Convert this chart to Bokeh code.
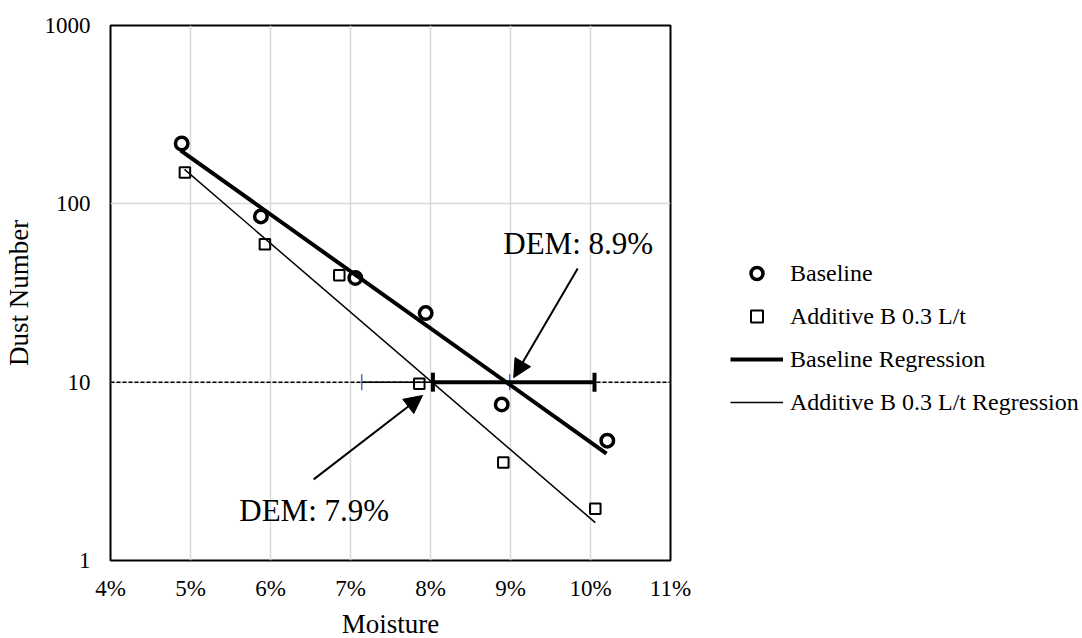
from bokeh.plotting import figure
from bokeh.models import (ColumnDataSource, Span, Whisker, TeeHead, Arrow, NormalHead,
                          Legend, LegendItem, FixedTicker, PrintfTickFormatter,
                          NumeralTickFormatter, Range1d)
from bokeh.core.properties import value
from bokeh.embed import file_html
from bokeh.resources import INLINE

FONT = "Liberation Serif"

# ---- data ----
baseline_moisture = [4.89, 5.88, 7.06, 7.94, 8.89, 10.21]
baseline_dust = [218, 85, 38.4, 24.4, 7.5, 4.7]
additive_moisture = [4.93, 5.93, 6.86, 7.86, 8.91, 10.06]
additive_dust = [150, 59.4, 39.8, 9.8, 3.54, 1.95]

baseline_reg_moisture = [4.875, 10.2]
baseline_reg_dust = [199.5, 3.98]
additive_reg_moisture = [4.925, 10.06]
additive_reg_dust = [156, 1.63]

dust_threshold = 10
baseline_err = [8.03, 10.05]
additive_err = [7.14, 8.99]

x_ticks = [4, 5, 6, 7, 8, 9, 10, 11]
y_ticks = [1, 10, 100, 1000]

dem_labels = ["DEM: 8.9%", "DEM: 7.9%"]
dem_label_x = [8.91, 5.61]
dem_label_y = [60.0, 1.91]
arrow_start_x = [9.84, 6.54]
arrow_start_y = [43.4, 2.85]
arrow_end_x = [9.04, 7.90]
arrow_end_y = [10.6, 8.42]

legend_labels = ["Baseline", "Additive B 0.3 L/t", "Baseline Regression",
                 "Additive B 0.3 L/t Regression"]

# ---- figure ----
p = figure(frame_width=560, frame_height=535, output_backend="svg", toolbar_location=None,
           y_axis_type="log", x_range=Range1d(4, 11), y_range=Range1d(1, 1000),
           min_border_left=104, min_border_right=410, min_border_top=25,
           min_border_bottom=0)
p.background_fill_color = "white"
p.border_fill_color = "white"
p.outline_line_color = "black"
p.outline_line_width = 2

p.xaxis.ticker = FixedTicker(ticks=x_ticks)
p.yaxis.ticker = FixedTicker(ticks=y_ticks)
p.xaxis.formatter = PrintfTickFormatter(format="%d%%")
p.yaxis.formatter = NumeralTickFormatter(format="0")
for ax in (p.xaxis, p.yaxis):
    ax.axis_line_color = None
    ax.major_tick_line_color = None
    ax.minor_tick_line_color = None
    ax.major_tick_out = 0
    ax.major_tick_in = 0
    ax.minor_tick_out = 0
    ax.major_label_text_font = FONT
    ax.major_label_text_font_size = "23px"
    ax.major_label_text_color = "black"
    ax.axis_label_text_font = FONT
    ax.axis_label_text_font_size = "27px"
    ax.axis_label_text_font_style = "normal"
    ax.axis_label_text_color = "black"
p.xaxis.axis_label = "Moisture"
p.yaxis.axis_label = "Dust Number"
p.xaxis.major_label_standoff = 15
p.xaxis.axis_label_standoff = 5
p.yaxis.major_label_standoff = 20
p.yaxis.axis_label_standoff = 8

p.xgrid.ticker = FixedTicker(ticks=x_ticks)
p.ygrid.ticker = FixedTicker(ticks=y_ticks)
p.grid.grid_line_color = "#D9D9D9"
p.grid.grid_line_width = 1.5
p.ygrid.minor_grid_line_color = None

# threshold dashed line
p.add_layout(Span(location=dust_threshold, dimension="width", line_color="black",
                  line_width=1.5, line_dash="4 2"))

# error bars
add_src = ColumnDataSource(dict(base=[dust_threshold], lower=[additive_err[0]],
                                upper=[additive_err[1]]))
p.add_layout(Whisker(source=add_src, base="base", lower="lower", upper="upper",
                     dimension="width", line_color="black", line_width=1.5,
                     lower_head=TeeHead(size=16, line_color="#4472C4", line_width=1.5),
                     upper_head=TeeHead(size=16, line_color="#4472C4", line_width=1.5)))
base_src = ColumnDataSource(dict(base=[dust_threshold], lower=[baseline_err[0]],
                                 upper=[baseline_err[1]]))
p.add_layout(Whisker(source=base_src, base="base", lower="lower", upper="upper",
                     dimension="width", line_color="black", line_width=4,
                     lower_head=TeeHead(size=19, line_color="black", line_width=4),
                     upper_head=TeeHead(size=19, line_color="black", line_width=4)))

# regression lines
r_breg = p.line(baseline_reg_moisture, baseline_reg_dust, line_color="black", line_width=4)
r_areg = p.line(additive_reg_moisture, additive_reg_dust, line_color="black", line_width=1.5)

# points
r_base = p.scatter(baseline_moisture, baseline_dust, marker="circle", size=12.5,
                   fill_color="white", fill_alpha=0, line_color="black", line_width=3.5)
r_add = p.scatter(additive_moisture, additive_dust, marker="square", size=10.5,
                  fill_color="white", fill_alpha=0, line_color="black", line_width=2)

# annotations
arrow_src = ColumnDataSource(dict(x0=arrow_start_x, y0=arrow_start_y,
                                  x1=arrow_end_x, y1=arrow_end_y))
p.add_layout(Arrow(source=arrow_src, x_start="x0", y_start="y0", x_end="x1", y_end="y1",
                   line_color="black", line_width=2,
                   end=NormalHead(size=18, fill_color="black", line_color="black",
                                  line_width=1)))
p.text(x=dem_label_x, y=dem_label_y, text=dem_labels, text_font=value(FONT),
       text_font_size="31px", text_color="black", text_align="left",
       text_baseline="alphabetic")

legend = Legend(items=[LegendItem(label=legend_labels[0], renderers=[r_base]),
                       LegendItem(label=legend_labels[1], renderers=[r_add]),
                       LegendItem(label=legend_labels[2], renderers=[r_breg]),
                       LegendItem(label=legend_labels[3], renderers=[r_areg])],
                location=(60, 143), padding=0, margin=0, spacing=13,
                glyph_width=53, glyph_height=30, label_height=30,
                label_standoff=7, label_text_font=FONT, label_text_font_size="24px",
                label_text_color="black", border_line_color=None,
                background_fill_alpha=0)
p.add_layout(legend, "right")

open("out.html", "w").write(file_html(p, INLINE))
